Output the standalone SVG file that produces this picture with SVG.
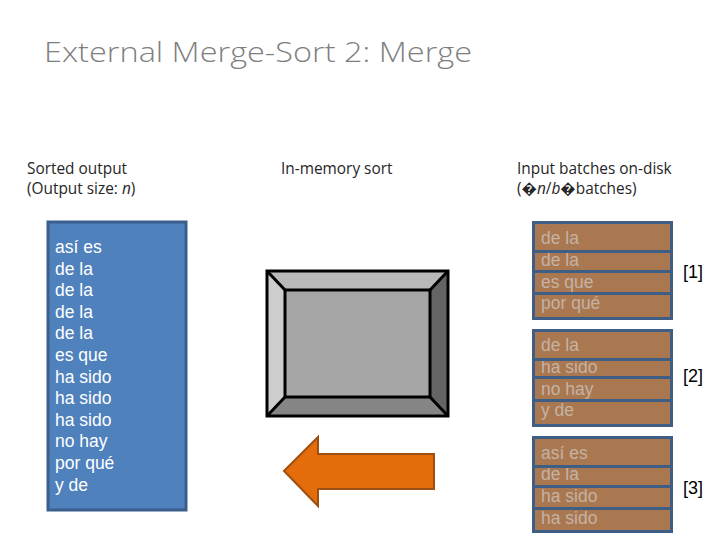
<svg xmlns="http://www.w3.org/2000/svg" width="720" height="540" viewBox="0 0 720 540">
<style>
.title{font-family:"Open Sans","Liberation Sans",sans-serif;font-weight:300;font-size:27px;fill:#7f7f7f}
.lbl{font-family:"Open Sans","Liberation Sans",sans-serif;font-size:15.4px;fill:#262626}
.out{font-family:"Liberation Sans",Arial,sans-serif;font-size:17.5px;fill:#ffffff}
.inb{font-family:"Liberation Sans",Arial,sans-serif;font-size:17.5px;fill:#c4b2a4}
.idx{font-family:"Liberation Sans",Arial,sans-serif;font-size:18px;fill:#000000}
.row{fill:#aa7850}
.frame{fill:#3f5e86}
.sep{stroke:#3f5e86;stroke-width:3}
</style>
<rect width="720" height="540" fill="#ffffff"/>
<text class="title" x="44" y="62" textLength="428" lengthAdjust="spacingAndGlyphs">External Merge-Sort 2: Merge</text>

<g id="label-output">
<text class="lbl" x="27" y="174">Sorted output</text>
<text class="lbl" x="27" y="194">(Output size: <tspan font-style="italic">n</tspan>)</text>
</g>
<g id="label-memory">
<text class="lbl" x="281" y="174">In-memory sort</text>
</g>
<g id="label-input">
<text class="lbl" x="517" y="174">Input batches on-disk</text>
<text class="lbl" x="517" y="194">(�<tspan font-style="italic">n</tspan>/<tspan font-style="italic">b</tspan>�batches)</text>
</g>

<g id="output">
<rect x="48" y="222" width="138" height="288" fill="#4f81bd" stroke="#3a5f8c" stroke-width="3"/>
<text class="out" x="55" y="253">así es</text>
<text class="out" x="55" y="275">de la</text>
<text class="out" x="55" y="296">de la</text>
<text class="out" x="55" y="318">de la</text>
<text class="out" x="55" y="339">de la</text>
<text class="out" x="55" y="361">es que</text>
<text class="out" x="55" y="383">ha sido</text>
<text class="out" x="55" y="404">ha sido</text>
<text class="out" x="55" y="426">ha sido</text>
<text class="out" x="55" y="447">no hay</text>
<text class="out" x="55" y="469">por qué</text>
<text class="out" x="55" y="491">y de</text>
</g>

<g id="memory">
<rect x="267" y="271" width="181" height="145" fill="#a6a6a6"/>
<polygon points="267,271 448,271 430,290 285,290" fill="#b9b9b9"/>
<polygon points="267,271 285,290 285,397 267,416" fill="#cdcdcd"/>
<polygon points="448,271 448,416 430,397 430,290" fill="#646464"/>
<polygon points="267,416 285,397 430,397 448,416" fill="#858585"/>
<g fill="none" stroke="#000000" stroke-width="3" stroke-linejoin="miter">
<rect x="267" y="271" width="181" height="145"/>
<rect x="285" y="290" width="145" height="107"/>
<line x1="267" y1="271" x2="285" y2="290"/>
<line x1="448" y1="271" x2="430" y2="290"/>
<line x1="267" y1="416" x2="285" y2="397"/>
<line x1="448" y1="416" x2="430" y2="397"/>
</g>
</g>

<g id="batch1">
<rect class="frame" x="532" y="221" width="141" height="99"/>
<rect class="row" x="535" y="224" width="135" height="26"/>
<rect class="row" x="535" y="253" width="135" height="17"/>
<rect class="row" x="535" y="273" width="135" height="19"/>
<rect class="row" x="535" y="295" width="135" height="22"/>
<text class="inb" x="541" y="244">de la</text>
<text class="inb" x="541" y="266">de la</text>
<text class="inb" x="541" y="288">es que</text>
<text class="inb" x="541" y="309">por qué</text>
<line class="sep" x1="532" y1="251.5" x2="673" y2="251.5"/>
<line class="sep" x1="532" y1="271.5" x2="673" y2="271.5"/>
<line class="sep" x1="532" y1="293.5" x2="673" y2="293.5"/>
</g>

<g id="batch2">
<rect class="frame" x="532" y="329" width="141" height="98"/>
<rect class="row" x="535" y="332" width="135" height="26"/>
<rect class="row" x="535" y="361" width="135" height="15"/>
<rect class="row" x="535" y="379" width="135" height="20"/>
<rect class="row" x="535" y="402" width="135" height="22"/>
<text class="inb" x="541" y="351">de la</text>
<text class="inb" x="541" y="373">ha sido</text>
<text class="inb" x="541" y="395">no hay</text>
<text class="inb" x="541" y="416">y de</text>
<line class="sep" x1="532" y1="359.5" x2="673" y2="359.5"/>
<line class="sep" x1="532" y1="377.5" x2="673" y2="377.5"/>
<line class="sep" x1="532" y1="400.5" x2="673" y2="400.5"/>
</g>

<g id="batch3">
<rect class="frame" x="532" y="436" width="141" height="97"/>
<rect class="row" x="535" y="439" width="135" height="26"/>
<rect class="row" x="535" y="468" width="135" height="17"/>
<rect class="row" x="535" y="488" width="135" height="19"/>
<rect class="row" x="535" y="510" width="135" height="20"/>
<text class="inb" x="541" y="459">así es</text>
<text class="inb" x="541" y="480">de la</text>
<text class="inb" x="541" y="502">ha sido</text>
<text class="inb" x="541" y="524">ha sido</text>
<line class="sep" x1="532" y1="466.5" x2="673" y2="466.5"/>
<line class="sep" x1="532" y1="486.5" x2="673" y2="486.5"/>
<line class="sep" x1="532" y1="508.5" x2="673" y2="508.5"/>
</g>

<g id="indices">
<text class="idx" x="683" y="278">[1]</text>
<text class="idx" x="683" y="382">[2]</text>
<text class="idx" x="683" y="494">[3]</text>
</g>

<g id="connectors">
<polygon points="284,471 318,437 318,454 434,454 434,489 318,489 318,506" fill="#e46c0a" stroke="#9c4f10" stroke-width="2" stroke-linejoin="miter"/>
</g>
</svg>
